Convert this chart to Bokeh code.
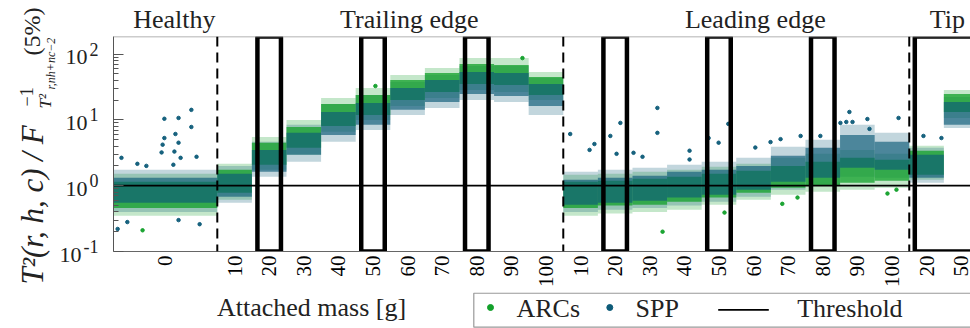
from math import pi, log10
from bokeh.plotting import figure
from bokeh.layouts import column, row
from bokeh.models import FixedTicker, Span, Range1d
from bokeh.core.properties import value
from bokeh.embed import file_html
from bokeh.resources import INLINE

# ---------------- data ----------------
category_group = (["Healthy"] + ["Trailing edge"] * 10 + ["Leading edge"] * 10 + ["Tip"] * 2)
category_mass = (["0"] + [str(m) for m in range(10, 101, 10)]
                 + [str(m) for m in range(10, 101, 10)] + ["20", "50"])
category_share = [3] + [1] * 22          # healthy block is three times as wide

# dense band of each cloud (core) and its sparse fringe (outer), T^2 ratio values
arcs_core_lo = [0.46, 0.78, 2.08, 3.77, 8.1, 11.9, 20.1, 26.6, 35.1, 33.9, 23.9,
                0.46, 0.50, 0.515, 0.57, 0.66, 0.78, 0.93, 1.0, 1.11, 1.19, 1.47, 13.2]
arcs_core_hi = [1.15, 1.75, 4.48, 7.8, 17.5, 23.9, 40.4, 51.5, 70.5, 68.0, 44.8,
                1.15, 1.19, 1.28, 1.37, 1.52, 1.69, 2.0, 2.31, 2.66, 2.48, 3.39, 24.8]
spp_core_lo = [0.55, 0.68, 1.63, 2.95, 5.9, 8.4, 14.2, 18.7, 24.8, 23.1, 16.3,
               0.515, 0.55, 0.59, 0.66, 0.73, 0.87, 1.15, 1.32, 1.87, 1.75, 1.32, 8.4]
spp_core_hi = [1.32, 1.52, 3.5, 6.35, 13.2, 18.1, 30.5, 40.4, 53.4, 51.5, 35.1,
               1.23, 1.32, 1.42, 1.63, 1.75, 2.0, 2.85, 3.77, 5.9, 4.64, 2.95, 18.7]
arcs_out_lo = [0.35, 0.61, 1.75, 2.95, 6.6, 10.0, 16.3, 21.5, 28.5, 26.6, 20.1,
               0.35, 0.377, 0.40, 0.43, 0.515, 0.61, 0.73, 0.81, 0.87, 0.93, 1.23, 10.7]
arcs_out_hi = [1.52, 2.15, 5.5, 10.0, 21.5, 30.5, 48.0, 61.4, 86.9, 86.9, 53.4,
               1.47, 1.52, 1.63, 1.75, 1.94, 2.15, 2.66, 3.05, 3.5, 3.05, 4.04, 28.5]
spp_out_lo = [0.40, 0.55, 1.37, 2.31, 4.64, 7.05, 11.9, 15.2, 20.1, 18.7, 11.9,
              0.40, 0.43, 0.46, 0.50, 0.57, 0.68, 0.87, 1.0, 1.37, 1.32, 1.11, 7.56]
spp_out_hi = [1.75, 2.0, 4.64, 8.4, 17.5, 23.9, 37.6, 48.0, 65.8, 65.8, 43.3,
              1.63, 1.75, 1.87, 2.08, 2.31, 2.66, 3.9, 4.98, 8.4, 6.35, 3.77, 22.3]

# isolated points outside the bands (x in category units, y ratio value)
spp_pts_x = [2.25, 1.47, 1.88, 2.25, 1.79, 1.47, 1.42, 1.88, 1.76, 1.39, 1.94, 2.40,
             0.23, 0.69, 0.95, 1.73, 0.12, 0.40, 1.88, 2.49,
             15.72, 15.72, 14.65, 14.36, 13.2, 13.76, 13.9, 14.54, 15.03, 15.29,
             17.2, 17.49, 16.65, 16.65, 17.77, 18.99, 18.55,
             21.27, 21.18, 21.79, 21.36, 21.85, 21.01, 19.86, 19.28, 20.43,
             22.69, 23.41, 23.93]
spp_pts_y = [14.2, 10.4, 10.7, 7.8, 6.1, 5.3, 4.2, 4.5, 3.3, 3.2, 2.65, 2.75,
             2.65, 2.15, 2.0, 2.08, 0.22, 0.28, 0.30, 0.26,
             15.2, 6.35, 9.0, 5.7, 6.1, 3.5, 4.3, 3.05, 3.16, 2.75,
             5.3, 4.5, 3.4, 2.5, 8.7, 4.6, 3.8,
             13.2, 9.3, 10.3, 9.3, 7.3, 9.0, 5.7, 5.1, 5.7,
             10.7, 5.7, 5.3]
arcs_pts_x = [0.84, 7.57, 11.82, 15.87, 17.66, 19.33, 19.77, 22.37, 22.63]
arcs_pts_y = [0.21, 32.7, 86.9, 0.20, 0.39, 0.53, 0.66, 0.76, 0.87]

threshold = 1.0
highlight_ranges = [(2, 2), (5, 5), (8, 8), (12, 12), (15, 15), (18, 18), (21, 22)]
group_titles = ["Healthy", "Trailing edge", "Leading edge", "Tip"]
group_title_x = [1.76, 8.55, 18.55, 24.1]
y_major = [0.1, 1, 10, 100]
y_exponents = ["-1", "0", "1", "2"]
legend_labels = ["ARCs", "SPP", "Threshold"]
x_label = "Attached mass [g]"

# ---------------- layout helpers ----------------
lefts, rights = [], []
acc = 0.0
for s in category_share:
    lefts.append(acc)
    acc += s
    rights.append(acc)
centers = [(a + b) / 2 for a, b in zip(lefts, rights)]
total = acc
x_view_end = 24.77
y_lo, y_hi = 0.1, 185

ARC = "#12a02a"
SPP = "#0d5b78"
SERIF = value("Liberation Serif")
INK = "#222222"

LEFT_W, TOP_H, MAIN_H, BOT_H = 113, 34, 258, 36
FRAME_TOP, FRAME_BOTTOM = 36, 251          # page rows of the plotting area


def blank(w, h, xr, yr, log=False):
    f = figure(width=w, height=h, x_range=xr, y_range=yr,
               y_axis_type="log" if log else "linear",
               x_axis_location=None, y_axis_location=None,
               output_backend="svg", toolbar_location=None, min_border=0)
    f.outline_line_color = None
    f.grid.visible = False
    return f


# ---------------- main plot ----------------
p = figure(width=970 - LEFT_W, height=MAIN_H, y_axis_type="log",
           x_range=Range1d(0, x_view_end), y_range=Range1d(y_lo, y_hi),
           output_backend="svg", toolbar_location=None,
           min_border_left=0, min_border_right=0,
           min_border_top=FRAME_TOP - TOP_H,
           min_border_bottom=MAIN_H - (FRAME_BOTTOM - TOP_H))
p.outline_line_color = None
p.xgrid.visible = False
p.ygrid.visible = False

p.quad(left=lefts, right=rights, bottom=arcs_out_lo, top=arcs_out_hi,
       fill_color=ARC, fill_alpha=0.25, line_color=None)
p.quad(left=lefts, right=rights, bottom=spp_out_lo, top=spp_out_hi,
       fill_color=SPP, fill_alpha=0.25, line_color=None)
p.quad(left=lefts, right=rights, bottom=arcs_core_lo, top=arcs_core_hi,
       fill_color=ARC, fill_alpha=0.75, line_color=None)
p.quad(left=lefts, right=rights, bottom=spp_core_lo, top=spp_core_hi,
       fill_color=SPP, fill_alpha=0.65, line_color=None)
p.scatter(arcs_pts_x, arcs_pts_y, size=3.5, color=ARC, alpha=0.95)
p.scatter(spp_pts_x, spp_pts_y, size=3.5, color=SPP, alpha=0.95)

p.line([0, total], [threshold, threshold], line_color="black", line_width=1.8)
p.add_layout(Span(location=y_hi, dimension="width", line_color="#999999", line_width=1.5))

for i in range(1, len(category_group)):
    if category_group[i] != category_group[i - 1]:
        p.add_layout(Span(location=lefts[i], dimension="height", line_color="black",
                          line_width=2, line_dash="10 6"))

box_l = [lefts[a] + 0.16 for a, b in highlight_ranges]
box_r = [rights[b] - 0.16 for a, b in highlight_ranges]
p.quad(left=box_l, right=box_r, bottom=y_lo, top=y_hi, fill_color=None,
       line_color="black", line_width=4.5)

ya = p.yaxis[0]
ya.ticker = FixedTicker(ticks=y_major,
                        minor_ticks=[m * 10 ** e for e in (-1, 0, 1, 2) for m in range(2, 10)])
ya.major_label_text_font_size = "1px"
ya.major_label_text_alpha = 0
ya.major_label_standoff = 0
ya.major_tick_in = 10
ya.major_tick_out = 0
ya.minor_tick_in = 5
ya.minor_tick_out = 0
for attr in ("axis_line_color", "major_tick_line_color", "minor_tick_line_color"):
    setattr(ya, attr, "#555555")

xa = p.xaxis[0]
xa.ticker = FixedTicker(ticks=centers)
xa.major_label_overrides = {c: m for c, m in zip(centers, category_mass)}
xa.major_label_orientation = pi / 2
xa.major_tick_in = 0
xa.major_tick_out = 0
xa.minor_tick_line_color = None
xa.axis_line_color = "#666666"
xa.major_label_text_font = "Liberation Serif"
xa.major_label_text_font_size = "21px"
xa.major_label_text_color = "black"
xa.major_label_standoff = 4

# ---------------- titles above ----------------
top = blank(970 - LEFT_W, TOP_H, p.x_range, Range1d(0, TOP_H))
top.text(x=group_title_x, y=[TOP_H - 18.5] * len(group_titles), text=group_titles,
         text_font=SERIF, text_font_size=value("26px"), text_align="center",
         text_baseline="middle", text_color=INK)

# ---------------- left: tick labels and axis title ----------------
k = log10(y_hi / y_lo) / (FRAME_BOTTOM - FRAME_TOP)


def yv(page_y):
    return 10 ** (log10(y_hi) - (page_y - FRAME_TOP) * k)


left = blank(LEFT_W, TOP_H + MAIN_H, Range1d(0, LEFT_W),
             Range1d(yv(TOP_H + MAIN_H), yv(0)), log=True)
ten_right = [87 - 6 * (len(e) - 1) for e in y_exponents]
left.text(x=ten_right, y=y_major, text=["10"] * len(y_major), text_font=SERIF,
          text_font_size=value("22px"), text_align="right", text_baseline="middle",
          y_offset=3, text_color=INK)
left.text(x=[r + 2 for r in ten_right], y=y_major, text=y_exponents, text_font=SERIF,
          text_font_size=value("18px"), text_align="left", text_baseline="middle",
          y_offset=-5, text_color=INK)


def vtext(x, page_y, txt, size, italic=False):
    left.text(x=[x], y=[yv(page_y)], text=[txt], angle=pi / 2, text_font=SERIF,
              text_font_size=value(size), text_align="left",
              text_baseline="alphabetic", text_color=INK,
              text_font_style="italic" if italic else "normal")


vtext(32, 284, "T²(r, h, c) / F", "31px", italic=True)
vtext(26, 106, "−1", "18px")
vtext(45, 108, "T²", "17px", italic=True)
vtext(50, 89, "r,nh+nc−2", "12px", italic=True)
vtext(31, 55, "(5%)", "24px")

# ---------------- bottom: axis title and legend ----------------
LBL_W = 468
lab = blank(LBL_W, BOT_H, Range1d(0, LBL_W), Range1d(0, BOT_H))
lab.text(x=[311], y=[21.5], text=[x_label], text_font=SERIF,
         text_font_size=value("26px"), text_align="center", text_baseline="middle",
         text_color=INK)

leg = blank(970 - LBL_W, BOT_H, Range1d(0, 970 - LBL_W), Range1d(0, BOT_H))
leg.quad(left=[5.3], right=[700], bottom=[1.3], top=[35.3], fill_color="white",
         line_color="#999999", line_width=1.2)
leg.scatter([22, 141.3], [21, 21], size=6, color=[ARC, SPP])
leg.line([249.7, 300.3], [18.7, 18.7], line_color="black", line_width=1.8)
leg.text(x=[48, 167, 328.7], y=[20, 20, 20], text=legend_labels, text_font=SERIF,
         text_font_size=value("26px"), text_align="left", text_baseline="middle",
         text_color=INK)

layout = column(row(left, column(top, p)), row(lab, leg))
open("out.html", "w").write(file_html(layout, INLINE))
